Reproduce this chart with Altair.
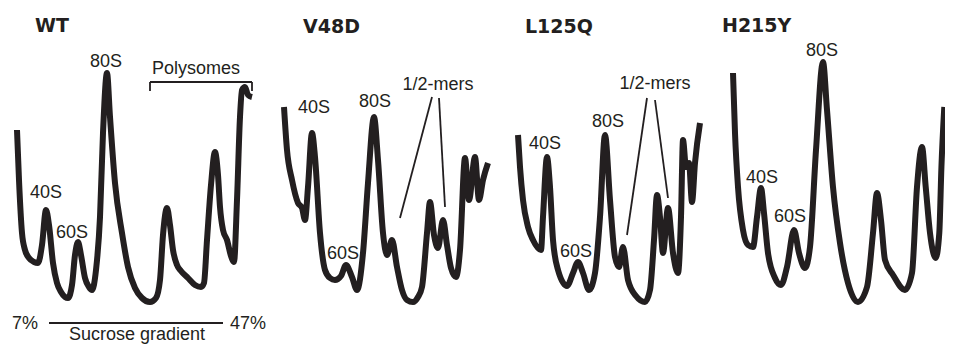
import altair as alt
import pandas as pd

# Sucrose-gradient position (x) and A254 signal (y, arbitrary units)
wt_x = [17,19,22,25,29,34,38,42,46,49,53,57,61,65,68,72,75,78,81,85,89,92,96,100,103,107,110,115,122,128,
        135,142,150,156,160,163,167,170,173,177,181,188,195,201,204,207,211,215,218,220,223,227,231,234,237,240,242,245,248,252]
wt_y = [222,172,119,102,94,90,89,107,142,127,89,69,60,55,54,67,97,110,97,74,65,62,82,135,219,279,235,169,119,85,
        64,54,50,54,72,117,144,127,102,87,81,74,67,65,69,112,167,200,177,145,122,112,96,90,152,235,262,265,257,255]

v48d_x = [284,287,292,298,302,305,308,312,315,320,325,330,335,341,346,352,357,363,368,374,378,383,387,392,397,402,407,413,418,422,
          427,430,434,438,443,447,451,456,460,465,469,475,479,483,488]
v48d_y = [245,202,172,149,144,132,165,219,195,119,82,74,72,76,87,75,62,99,169,235,192,119,97,112,85,62,52,50,55,65,
          119,150,117,104,132,107,84,75,102,194,152,195,152,172,189]

l125q_x = [518,520,523,528,533,541,543,547,550,553,558,567,573,578,583,589,595,600,605,610,615,619,623,628,636,645,650,654,657,660,
           663,668,673,678,681,683,686,689,692,695,700]
l125q_y = [217,185,152,125,112,102,135,195,165,112,82,66,79,90,79,62,79,135,217,152,95,85,105,72,56,50,62,112,157,135,
           99,144,99,79,135,212,185,189,150,189,229]

h215y_x = [733,735,738,743,748,753,757,761,764,768,775,781,787,794,799,805,810,816,823,827,833,840,848,858,867,873,877,881,885,893,
           905,912,917,922,926,932,940,945,948,952]
h215y_y = [279,219,165,122,107,105,135,164,139,99,74,67,85,122,99,84,105,202,290,242,165,109,69,50,65,119,159,132,92,77,
           62,79,165,205,165,119,94,119,185,245]

# Panel titles
title_text = ["WT", "V48D", "L125Q", "H215Y"]
title_x = [35, 303, 525, 722]
title_y = [320, 319, 319, 320]

# Peak labels
label_text = ["40S", "60S", "80S", "Polysomes",
              "40S", "60S", "80S", "1/2-mers",
              "40S", "60S", "80S", "1/2-mers",
              "40S", "60S", "80S",
              "7%", "47%", "Sucrose gradient"]
label_x = [46, 72, 106, 196, 314, 343, 375, 438, 545, 576, 608, 655, 762, 790, 822, 25, 248, 137]
label_y = [154, 114, 285, 278, 239, 93, 245, 262, 203, 95, 225, 263, 169, 130, 296, 16, 16, 2]

# Annotation strokes (bracket, pointer lines, gradient bar)
seg_x = [150, 150, 252, 49, 432, 439, 647, 655]
seg_x2 = [252, 150, 252, 223, 400, 445, 627, 668]
seg_y = [270, 270, 270, 24, 255, 254, 254, 252]
seg_y2 = [270, 261, 261, 24, 134, 145, 117, 154]

traces = pd.concat([
    pd.DataFrame({"pos": wt_x, "signal": wt_y, "sample": "WT"}),
    pd.DataFrame({"pos": v48d_x, "signal": v48d_y, "sample": "V48D"}),
    pd.DataFrame({"pos": l125q_x, "signal": l125q_y, "sample": "L125Q"}),
    pd.DataFrame({"pos": h215y_x, "signal": h215y_y, "sample": "H215Y"}),
])
titles = pd.DataFrame({"t": title_text, "x": title_x, "y": title_y})
labels = pd.DataFrame({"t": label_text, "x": label_x, "y": label_y})
segs = pd.DataFrame({"x": seg_x, "x2": seg_x2, "y": seg_y, "y2": seg_y2})

W, H = 937, 336
xs = alt.Scale(domain=[8, 925, 953], range=[0, 917, W], nice=False, zero=False)
ys = alt.Scale(domain=[0, 2, 24, 50, 344], range=[H, 332, 315, 294, 0], nice=False, zero=False)
ink = "#231f20"

lines = alt.Chart(traces).mark_line(
    color=ink, strokeWidth=6, interpolate="monotone", strokeCap="butt", strokeJoin="round"
).encode(
    x=alt.X("pos:Q", scale=xs, axis=None),
    y=alt.Y("signal:Q", scale=ys, axis=None),
    detail="sample:N",
)

rules = alt.Chart(segs).mark_rule(color=ink, strokeWidth=1.8).encode(
    x=alt.X("x:Q", scale=xs, axis=None),
    x2="x2:Q",
    y=alt.Y("y:Q", scale=ys, axis=None),
    y2="y2:Q",
)

label_marks = alt.Chart(labels).mark_text(
    font="Liberation Sans", fontSize=18, color=ink, align="center", baseline="alphabetic"
).encode(
    x=alt.X("x:Q", scale=xs, axis=None),
    y=alt.Y("y:Q", scale=ys, axis=None),
    text="t:N",
)

title_marks = alt.Chart(titles).mark_text(
    font="DejaVu Sans", fontSize=19, fontWeight="bold", color=ink, align="left", baseline="alphabetic"
).encode(
    x=alt.X("x:Q", scale=xs, axis=None),
    y=alt.Y("y:Q", scale=ys, axis=None),
    text="t:N",
)

chart = alt.layer(lines, rules, label_marks, title_marks).properties(
    width=W, height=H, padding=0, autosize=alt.AutoSizeParams(type="none")
).configure_view(stroke=None)

chart.save("out.html", embed_options={"renderer": "svg", "actions": False})
